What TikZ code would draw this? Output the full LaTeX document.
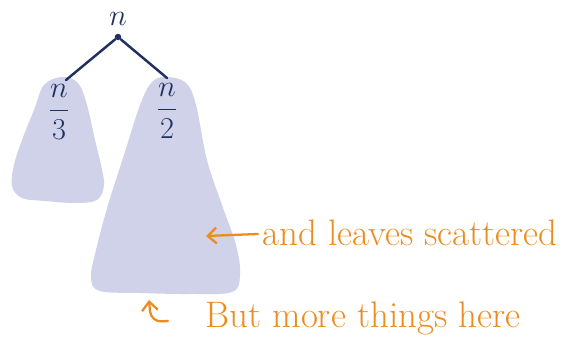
\documentclass[tikz,border=0pt]{standalone}
\usepackage{amsmath,amssymb}
\usepackage{xcolor}
\usepackage{tikz}
\usetikzlibrary{arrows.meta,positioning}

\definecolor{blobfill}{RGB}{207,210,232}
\definecolor{inkblue}{RGB}{33,48,98}
\definecolor{inkorange}{RGB}{236,140,32}

\tikzset{
  blob/.style={fill=blobfill, draw=none},
  treeline/.style={draw=inkblue, line width=1.4pt, line cap=round},
  notetext/.style={color=inkorange, font=\fontsize{21}{25}\selectfont, inner sep=0pt},
  notearrow/.style={draw=inkorange, line width=1.3pt, line cap=round, -{Straight Barb[length=5pt,width=9pt]}},
  sizelabel/.style={color=inkblue, font=\fontsize{19}{23}\selectfont, inner sep=0pt}
}

\begin{document}
\begin{tikzpicture}[x=0.02cm, y=-0.02cm]
    \useasboundingbox (0, 0) rectangle (562, 350);
    % the two subtrees
    \path[blob] plot[smooth cycle, tension=0.6] coordinates {
      (62,77) (78,83) (87,105) (95,140) (101,165) (104,185) (97,200) (75,203)
      (45,201) (22,198) (12,186) (14,165) (22,140) (34,110) (44,85)};
    \path[blob] plot[smooth cycle, tension=0.6] coordinates {
      (167,77) (186,83) (196,105) (207,160) (222,205) (236,245) (240,275) (232,292)
      (190,294) (140,293) (100,291) (91,278) (96,250) (108,205) (124,155) (140,105) (152,82)};
    % root and edges
    \node[sizelabel] (root) at (118, 19) {$n$};
    \node[circle, fill=inkblue, inner sep=1.3pt] (top) at (118, 37) {};
    \coordinate (lefttop) at (66, 80);
    \coordinate (righttop) at (167, 78);
    \draw[treeline] (top) -- (lefttop);
    \draw[treeline] (top) -- (righttop);
    \node[sizelabel] (third) at (59, 112) {$\dfrac{n}{3}$};
    \node[sizelabel] (half) at (167, 111) {$\dfrac{n}{2}$};
    % notes
    \node[notetext, anchor=west] (scatter) at (262, 233) {and leaves scattered};
    \coordinate (scatterpt) at (206, 236);
    \draw[notearrow] (scatter.west) ++(-4, 1) -- (scatterpt);
    \node[notetext, anchor=west] (more) at (205, 318) {But more things here};
    \coordinate (morept) at (149, 300);
    \draw[notearrow, rounded corners=6pt] (168, 321) -- (151, 322) -- (morept);
  \end{tikzpicture}
\end{document}
